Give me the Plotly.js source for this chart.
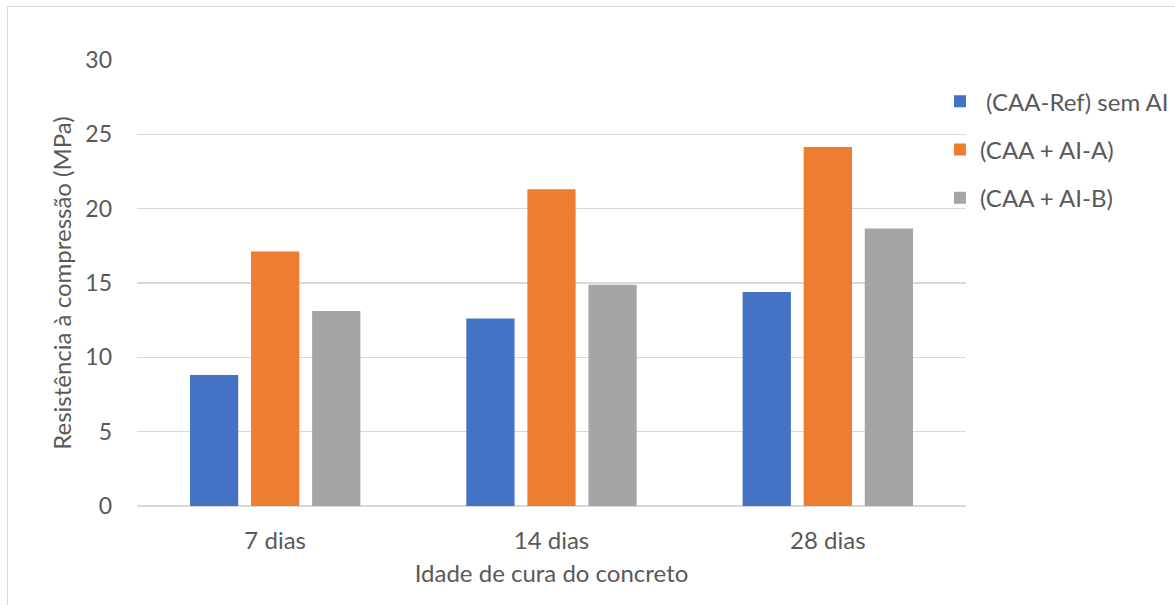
<!DOCTYPE html>
<html><head><meta charset="utf-8">
<script src="https://cdn.plot.ly/plotly-3.0.1.min.js"></script>
<style>
html,body{margin:0;padding:0;background:#fff;}
#frame{position:absolute;left:7px;top:6px;width:1200px;height:640px;border:1.5px solid #d9d9d9;box-sizing:border-box;}
#chart{position:absolute;left:0;top:0;width:1175px;height:605px;}
</style></head>
<body>
<div id="frame"></div>
<div id="chart"></div>
<script>
const categories = ["7 dias", "14 dias", "28 dias"];
const seriesNames = ["\u00a0(CAA-Ref) sem AI", "(CAA + AI-A)", "(CAA + AI-B)"];
const refValues = [8.82, 12.61, 14.39];
const aiAValues = [17.12, 21.3, 24.15];
const aiBValues = [13.11, 14.88, 18.67];
const colors = ["#4472c4", "#ed7d31", "#a5a5a5"];
const yTicks = [0, 5, 10, 15, 20, 25, 30];

const vals = [refValues, aiAValues, aiBValues];
const traces = vals.map((v, i) => ({
  type: "bar", x: categories, y: v, name: seriesNames[i],
  legendgroup: "g" + i,
  marker: {color: colors[i]}, hoverinfo: "skip"
}));

const fam = "Lato, Liberation Sans, sans-serif";
const col = "#595959";
const layout = {
  width: 1175, height: 605,
  margin: {l: 137, r: 209, t: 60, b: 99, pad: 0, autoexpand: false},
  paper_bgcolor: "rgba(0,0,0,0)", plot_bgcolor: "rgba(0,0,0,0)",
  font: {family: fam, color: col, size: 24},
  barmode: "group", bargap: 0.337, bargroupgap: 0.21,
  showlegend: true,
  legend: {x: 0.9686, y: 0.957, xanchor: "left", yanchor: "top",
    font: {family: fam, color: col, size: 24},
    traceorder: "grouped", tracegroupgap: 14, itemwidth: 30, bgcolor: "rgba(0,0,0,0)"},
  xaxis: {type: "category", showgrid: false, showline: false, zeroline: false,
    ticks: "", tickfont: {family: fam, size: 24, color: col}, ticklabelstandoff: 18,
    title: {text: "Idade de cura do concreto", font: {family: fam, size: 24, color: col}, standoff: 12}},
  yaxis: {range: [0, 30], tickvals: yTicks, ticktext: yTicks.map(String),
    showgrid: true, gridcolor: "#d9d9d9", gridwidth: 1.5,
    zeroline: true, zerolinecolor: "#d9d9d9", zerolinewidth: 1.5,
    showline: false, ticks: "", ticklabelstandoff: 24,
    tickfont: {family: fam, size: 23, color: col},
    title: {text: "Resistência à compressão (MPa)", font: {family: fam, size: 24, color: col}, standoff: 6}}
};
Plotly.newPlot("chart", traces, layout, {staticPlot: true, displayModeBar: false});
</script>
</body></html>
